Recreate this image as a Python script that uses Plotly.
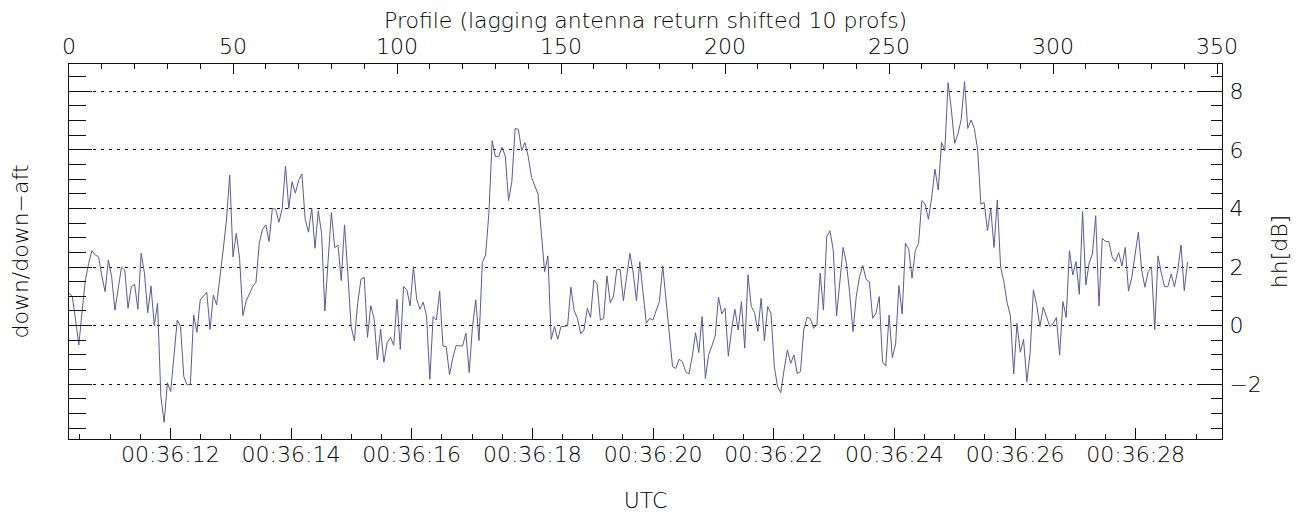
import plotly.graph_objects as go

# hh[dB] values, one per profile (profile 0 .. 341)
hh_db = [
    1.1, 1.0, 0.2, -0.66, 0.5, 1.56, 2.13, 2.56, 2.41, 2.35,
    1.7, 1.16, 2.24, 1.67, 0.53, 1.27, 1.99, 1.9, 0.59, 1.33,
    1.41, 0.56, 2.47, 1.79, 0.44, 1.35, 0.0, 0.76, -2.42, -3.3,
    -1.95, -2.25, -0.94, 0.19, -0.03, -1.74, -2.02, -2.02, 0.36, -0.23,
    0.88, 1.01, 1.14, -0.13, 1.05, 0.71, 1.56, 2.58, 3.6, 5.14,
    2.35, 3.15, 2.3, 0.34, 0.84, 1.1, 1.33, 1.48, 2.81, 3.29,
    3.44, 2.87, 4.0, 3.97, 3.53, 4.0, 5.45, 4.0, 4.91, 4.52,
    4.95, 5.18, 3.63, 3.19, 4.0, 2.64, 3.92, 3.15, 0.5, 2.24,
    3.86, 2.66, 2.75, 1.54, 3.44, 1.79, -0.03, -0.52, 0.76, 1.58,
    1.65, -0.4, 0.68, 0.25, -1.17, -0.13, -1.25, -0.58, -0.4, -0.67,
    0.9, -0.81, 1.33, 1.22, 0.67, 2.01, 0.9, 0.56, 0.8, 0.33,
    -1.83, 0.31, 0.19, 1.18, -0.69, -0.72, -1.68, -1.11, -0.68, -0.69,
    -0.69, -0.26, -1.6, -0.03, 0.88, -0.51, 2.15, 2.41, 3.83, 6.31,
    5.77, 5.77, 6.09, 5.79, 4.27, 4.91, 6.73, 6.7, 5.97, 6.25,
    5.77, 5.06, 4.77, 4.49, 3.15, 1.84, 2.38, -0.47, -0.03, -0.47,
    -0.03, -0.03, 0.0, 1.31, 0.51, 0.25, -0.28, -0.15, 0.59, 0.28,
    1.56, 1.42, 0.19, 0.25, 1.7, 0.78, 1.01, 1.92, 1.92, 0.85,
    1.67, 2.47, 1.8, 0.85, 2.18, 1.1, 0.08, 0.25, 0.19, 0.51,
    0.82, 2.04, 0.76, -0.26, -1.4, -1.46, -1.15, -1.23, -1.57, -1.65,
    -1.06, -0.24, -0.92, 0.31, -1.8, -1.0, -0.69, -0.35, 0.97, 0.4,
    0.59, -1.04, -0.13, 0.56, -0.15, 0.82, -0.77, 1.73, 0.65, 0.44,
    -0.2, 0.93, -0.52, 0.65, 0.42, -1.38, -2.08, -2.29, -1.51, -0.83,
    -1.29, -1.0, -1.63, -1.57, -0.13, 0.28, 0.24, -0.09, 0.02, 1.79,
    0.53, 3.04, 3.24, 2.56, 0.33, 1.5, 2.67, 2.13, 1.1, -0.2,
    0.99, 1.67, 2.05, 1.58, 1.5, 0.25, 0.42, 0.99, -1.23, -1.38,
    0.36, -1.09, -0.63, 1.37, 0.4, 2.81, 2.61, 1.62, 2.56, 2.81,
    4.27, 4.15, 3.63, 4.38, 5.34, 4.63, 6.25, 5.97, 8.29, 7.36,
    6.22, 6.54, 7.04, 8.33, 6.73, 7.02, 6.73, 6.0, 4.15, 4.2,
    3.24, 4.0, 2.67, 4.29, 2.01, 1.5, 0.78, 0.33, -1.65, 0.08,
    -0.91, -0.47, -1.91, -0.94, 1.22, 0.71, -0.03, 0.63, 0.31, -0.03,
    0.06, 0.28, -1.0, 0.82, 0.28, 2.56, 1.73, 2.18, 1.07, 3.89,
    1.39, 2.13, 2.45, 3.75, 0.67, 2.98, 2.87, 2.87, 2.35, 2.18,
    2.49, 2.04, 2.67, 1.18, 1.65, 2.47, 3.19, 1.9, 1.31, 1.84,
    2.01, -0.13, 2.38, 1.79, 1.33, 1.33, 1.76, 1.33, 1.88, 2.75,
    1.19, 2.18,
]
profile = list(range(len(hh_db)))

# bottom time axis (seconds after 00:36:00)
utc_seconds = [12, 14, 16, 18, 20, 22, 24, 26, 28]
utc_labels = ["00:36:12", "00:36:14", "00:36:16", "00:36:18", "00:36:20",
              "00:36:22", "00:36:24", "00:36:26", "00:36:28"]
utc_range = [10.32, 29.43]

profile_ticks = [0, 50, 100, 150, 200, 250, 300, 350]
profile_range = [0, 351.5]
hh_ticks = [-2, 0, 2, 4, 6, 8]
hh_range = [-3.87, 8.93]

FONT = "DejaVu Sans"
TXT = dict(family=FONT, size=22, color="#000000", weight=200)
LINE_COL = "#5a5a9c"
AX_COL = "#111111"

fig = go.Figure()
fig.add_trace(go.Scatter(
    x=profile, y=hh_db, mode="lines",
    line=dict(color=LINE_COL, width=1),
    xaxis="x", yaxis="y", showlegend=False, hoverinfo="skip",
))
# invisible trace to register the bottom/left axes
fig.add_trace(go.Scatter(
    x=utc_range, y=[None, None], mode="lines",
    xaxis="x2", yaxis="y2", showlegend=False, hoverinfo="skip",
))

axis_common = dict(showline=True, linecolor=AX_COL, linewidth=1,
                   ticks="inside", tickcolor=AX_COL, tickwidth=1,
                   zeroline=False, tickfont=TXT, automargin=False)

fig.update_layout(
    width=1305, height=506,
    margin=dict(l=61, r=91, t=56, b=75, autoexpand=False),
    paper_bgcolor="white", plot_bgcolor="white",
    font=TXT,
    xaxis=dict(
        **axis_common, side="top", anchor="y", range=profile_range,
        tickvals=profile_ticks, ticklen=10,
        minor=dict(dtick=10, ticklen=5, ticks="inside", tickcolor=AX_COL, showgrid=False),
        showgrid=False,
    ),
    xaxis2=dict(
        **axis_common, side="bottom", anchor="y", overlaying="x", range=utc_range,
        tickvals=utc_seconds, ticktext=utc_labels, ticklen=11, ticklabelstandoff=-4,
        minor=dict(dtick=0.5, tick0=0, ticklen=5, ticks="inside", tickcolor=AX_COL, showgrid=False),
        showgrid=False,
        title=dict(text="UTC", font=TXT, standoff=26),
    ),
    yaxis=dict(
        **axis_common, side="right", anchor="x", range=hh_range,
        tickvals=hh_ticks, ticklen=22, ticklabelstandoff=2,
        minor=dict(dtick=0.5, tick0=0, ticklen=11, ticks="inside", tickcolor=AX_COL, showgrid=False),
        showgrid=True, gridcolor=AX_COL, gridwidth=1, griddash="3px,5px",
        title=dict(text="hh[dB]", font=TXT, standoff=10),
    ),
    yaxis2=dict(
        **axis_common, side="left", anchor="x", overlaying="y", range=hh_range,
        tickvals=hh_ticks, ticklen=23, showticklabels=False,
        minor=dict(dtick=0.5, tick0=0, ticklen=17, ticks="inside", tickcolor=AX_COL, showgrid=False),
        showgrid=False,
        title=dict(text="down/down\u2212aft", font=TXT, standoff=33),
    ),
    annotations=[dict(
        text="Profile (lagging antenna return shifted 10 profs)",
        xref="paper", yref="paper", x=0.5, y=1, xanchor="center", yanchor="middle",
        yshift=44, showarrow=False, font=TXT,
    )],
)

fig.write_html("out.html")
